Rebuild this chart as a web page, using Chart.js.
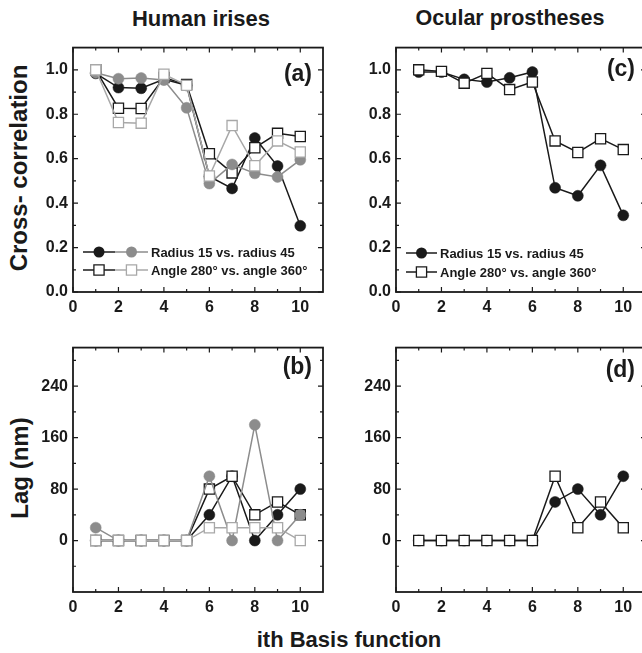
<!DOCTYPE html>
<html lang="en">
<head>
<meta charset="UTF-8">
<title>Cross-correlation and lag per basis function</title>
<script src="https://cdn.jsdelivr.net/npm/chart.js"></script>
<style>
    html, body { margin: 0; padding: 0; background: #fff; overflow: hidden; }
    body {
        width: 642px; height: 653px; position: relative;
        font-family: 'Liberation Sans', Arial, sans-serif; font-weight: bold; color: #1a1a1a;
    }
    canvas { position: absolute; }
    .lbl { position: absolute; white-space: nowrap; line-height: 1; transform: translate(-50%, -50%); }
    .rot { transform: translate(-50%, -50%) rotate(-90deg); }
</style>
</head>
<body>
<div class="lbl" style="left:201px; top:19px; font-size:22px;">Human irises</div>
<div class="lbl" style="left:510px; top:19px; font-size:21.5px;">Ocular prostheses</div>
<div class="lbl rot" style="left:19px; top:168px; font-size:24px;">Cross- correlation</div>
<div class="lbl rot" style="left:20px; top:468px; font-size:24px;">Lag (nm)</div>
<div class="lbl" style="left:349px; top:640px; font-size:22px;">ith Basis function</div>

<canvas id="panelA" width="310" height="289" style="left:23px; top:33px;"></canvas>
<canvas id="panelC" width="310" height="289" style="left:346px; top:33px;"></canvas>
<canvas id="panelB" width="310" height="289" style="left:23px; top:333px;"></canvas>
<canvas id="panelD" width="310" height="289" style="left:346px; top:333px;"></canvas>

<script>
// basis function index and axis ticks
const basisIdx = [1, 2, 3, 4, 5, 6, 7, 8, 9, 10];
const xTicks = [0, 2, 4, 6, 8, 10];
const xMinor = [1, 3, 5, 7, 9];
const corrTicks = [0, 0.2, 0.4, 0.6, 0.8, 1.0];
const corrMinor = [0.1, 0.3, 0.5, 0.7, 0.9];
const lagTicks = [0, 80, 160, 240];
const lagMinor = [-40, 40, 120, 200, 280];

// (a) human irises, cross-correlation
const irisRadiusCorrBlack = [0.984, 0.92, 0.917, 0.957, 0.93, 0.52, 0.466, 0.693, 0.567, 0.298];
const irisRadiusCorrGray  = [0.987, 0.96, 0.963, 0.954, 0.829, 0.488, 0.574, 0.534, 0.518, 0.595];
const irisAngleCorrBlack  = [1.0, 0.827, 0.826, 0.965, 0.934, 0.622, 0.536, 0.649, 0.714, 0.70];
const irisAngleCorrGray   = [1.0, 0.763, 0.76, 0.98, 0.93, 0.522, 0.749, 0.568, 0.68, 0.63];

// (b) human irises, lag
const irisRadiusLagBlack = [0, 0, 0, 0, 0, 40, 100, 0, 40, 80];
const irisRadiusLagGray  = [20, 0, 0, 0, 0, 100, 0, 180, 0, 40];
const irisAngleLagBlack  = [0, 0, 0, 0, 0, 80, 100, 40, 60, 40];
const irisAngleLagGray   = [0, 0, 0, 0, 0, 20, 20, 20, 20, 0];

// (c) ocular prostheses, cross-correlation
const prosRadiusCorr = [0.99, 0.99, 0.957, 0.945, 0.964, 0.99, 0.469, 0.433, 0.57, 0.345];
const prosAngleCorr  = [1.0, 0.993, 0.94, 0.984, 0.911, 0.945, 0.68, 0.628, 0.69, 0.641];

// (d) ocular prostheses, lag
const prosRadiusLag = [0, 0, 0, 0, 0, 0, 60, 80, 40, 100];
const prosAngleLag  = [0, 0, 0, 0, 0, 0, 100, 20, 60, 20];

const FONT = "'Liberation Sans', Arial, sans-serif";
const INK = '#1a1a1a';
const GRAY_C = '#8c8c8c';
const GRAY_S = '#a8a8a8';

function series(values, kind, color) {
    const circle = kind === 'circle';
    return {
        data: basisIdx.map((x, i) => ({ x: x, y: values[i] })),
        borderColor: color,
        borderWidth: 1.5,
        tension: 0,
        fill: false,
        pointStyle: circle ? 'circle' : 'rect',
        pointRadius: circle ? 5.5 : 7.2,
        pointBackgroundColor: circle ? color : '#fff',
        pointBorderColor: color,
        pointBorderWidth: circle ? 0.5 : 1.3
    };
}

function marker(ctx, kind, color, x, y) {
    ctx.beginPath();
    if (kind === 'circle') {
        ctx.fillStyle = color;
        ctx.arc(x, y, 5.5, 0, Math.PI * 2);
        ctx.fill();
    } else {
        ctx.fillStyle = '#fff';
        ctx.strokeStyle = color;
        ctx.lineWidth = 1.3;
        ctx.rect(x - 5.1, y - 5.1, 10.2, 10.2);
        ctx.fill();
        ctx.stroke();
    }
}

// frame with inward ticks on all four sides, panel letter and legend
const framePlugin = {
    id: 'frame',
    afterDatasetsDraw(chart, args, o) {
        const { ctx, chartArea: a, scales: { x, y } } = chart;
        ctx.save();
        ctx.strokeStyle = INK;
        ctx.lineWidth = 1.2;
        const drawX = (vals, len) => vals.forEach(v => {
            const px = x.getPixelForValue(v);
            ctx.beginPath();
            ctx.moveTo(px, a.bottom); ctx.lineTo(px, a.bottom - len);
            ctx.moveTo(px, a.top); ctx.lineTo(px, a.top + len);
            ctx.stroke();
        });
        const drawY = (vals, len) => vals.forEach(v => {
            const py = y.getPixelForValue(v);
            ctx.beginPath();
            ctx.moveTo(a.left, py); ctx.lineTo(a.left + len, py);
            ctx.moveTo(a.right, py); ctx.lineTo(a.right - len, py);
            ctx.stroke();
        });
        drawX(xTicks, 5); drawX(xMinor, 3);
        drawY(o.yMajor, 5); drawY(o.yMinor, 3);
        ctx.lineWidth = 1.8;
        ctx.strokeRect(a.left, a.top, a.right - a.left, a.bottom - a.top);

        ctx.fillStyle = INK;
        ctx.font = 'bold 23px ' + FONT;
        ctx.textAlign = 'right';
        ctx.textBaseline = 'middle';
        ctx.fillText(o.letter, a.right - 11, a.top + o.letterDy);

        (o.legend || []).forEach(row => {
            const ry = a.bottom - row.dy;
            row.items.forEach(it => {
                ctx.strokeStyle = it.color;
                ctx.lineWidth = 1.5;
                ctx.beginPath();
                ctx.moveTo(a.left + it.x0, ry); ctx.lineTo(a.left + it.x1, ry);
                ctx.stroke();
                marker(ctx, it.kind, it.color, a.left + (it.x0 + it.x1) / 2, ry);
            });
            ctx.fillStyle = INK;
            ctx.font = 'bold 13px ' + FONT;
            ctx.textAlign = 'left';
            ctx.textBaseline = 'middle';
            ctx.fillText(row.text, a.left + row.tx, ry + 1);
        });
        ctx.restore();
    }
};

function makePanel(id, datasets, yMin, yMax, yMajor, yMinor, fmt, frame) {
    return new Chart(document.getElementById(id), {
        type: 'line',
        data: { datasets: datasets },
        options: {
            responsive: false,
            animation: false,
            layout: { padding: { top: 10, right: 10, left: 0, bottom: 0 } },
            plugins: { legend: { display: false }, tooltip: { enabled: false }, frame: frame },
            scales: {
                x: {
                    type: 'linear', min: 0, max: 11,
                    grid: { display: false, drawTicks: false },
                    border: { display: false },
                    afterBuildTicks: s => { s.ticks = xTicks.map(v => ({ value: v })); },
                    afterFit: s => { s.height = 30; },
                    ticks: {
                        autoSkip: false, maxRotation: 0, padding: 6, color: INK,
                        font: { family: FONT, size: 16, weight: 'bold' },
                        callback: v => String(v)
                    }
                },
                y: {
                    type: 'linear', min: yMin, max: yMax,
                    grid: { display: false, drawTicks: false },
                    border: { display: false },
                    afterBuildTicks: s => { s.ticks = yMajor.map(v => ({ value: v })); },
                    afterFit: s => { s.width = 50; },
                    ticks: {
                        autoSkip: false, padding: 5, color: INK,
                        font: { family: FONT, size: 16, weight: 'bold' },
                        callback: fmt
                    }
                }
            }
        },
        plugins: [framePlugin]
    });
}

const corrFmt = v => v.toFixed(1);
const lagFmt = v => String(v);

makePanel('panelA', [
    series(irisAngleCorrGray, 'square', GRAY_S),
    series(irisRadiusCorrGray, 'circle', GRAY_C),
    series(irisAngleCorrBlack, 'square', INK),
    series(irisRadiusCorrBlack, 'circle', INK)
], 0, 1.1, corrTicks, corrMinor, corrFmt, {
    yMajor: corrTicks, yMinor: corrMinor, letter: '(a)', letterDy: 27,
    legend: [
        { dy: 40, tx: 78, text: 'Radius 15 vs. radius 45',
          items: [{ kind: 'circle', color: INK, x0: 10, x1: 42 }, { kind: 'circle', color: GRAY_C, x0: 42, x1: 75 }] },
        { dy: 22, tx: 78, text: 'Angle 280\u00b0 vs. angle 360\u00b0',
          items: [{ kind: 'square', color: INK, x0: 10, x1: 42 }, { kind: 'square', color: GRAY_S, x0: 42, x1: 75 }] }
    ]
});

makePanel('panelC', [
    series(prosAngleCorr, 'square', INK),
    series(prosRadiusCorr, 'circle', INK)
], 0, 1.1, corrTicks, corrMinor, corrFmt, {
    yMajor: corrTicks, yMinor: corrMinor, letter: '(c)', letterDy: 22,
    legend: [
        { dy: 39, tx: 44, text: 'Radius 15 vs. radius 45',
          items: [{ kind: 'circle', color: INK, x0: 10, x1: 41 }] },
        { dy: 20, tx: 44, text: 'Angle 280\u00b0 vs. angle 360\u00b0',
          items: [{ kind: 'square', color: INK, x0: 10, x1: 41 }] }
    ]
});

makePanel('panelB', [
    series(irisAngleLagGray, 'square', GRAY_S),
    series(irisRadiusLagGray, 'circle', GRAY_C),
    series(irisAngleLagBlack, 'square', INK),
    series(irisRadiusLagBlack, 'circle', INK)
], -80, 300, lagTicks, lagMinor, lagFmt, {
    yMajor: lagTicks, yMinor: lagMinor, letter: '(b)', letterDy: 20
});

makePanel('panelD', [
    series(prosAngleLag, 'square', INK),
    series(prosRadiusLag, 'circle', INK)
], -80, 300, lagTicks, lagMinor, lagFmt, {
    yMajor: lagTicks, yMinor: lagMinor, letter: '(d)', letterDy: 23
});
</script>
</body>
</html>
